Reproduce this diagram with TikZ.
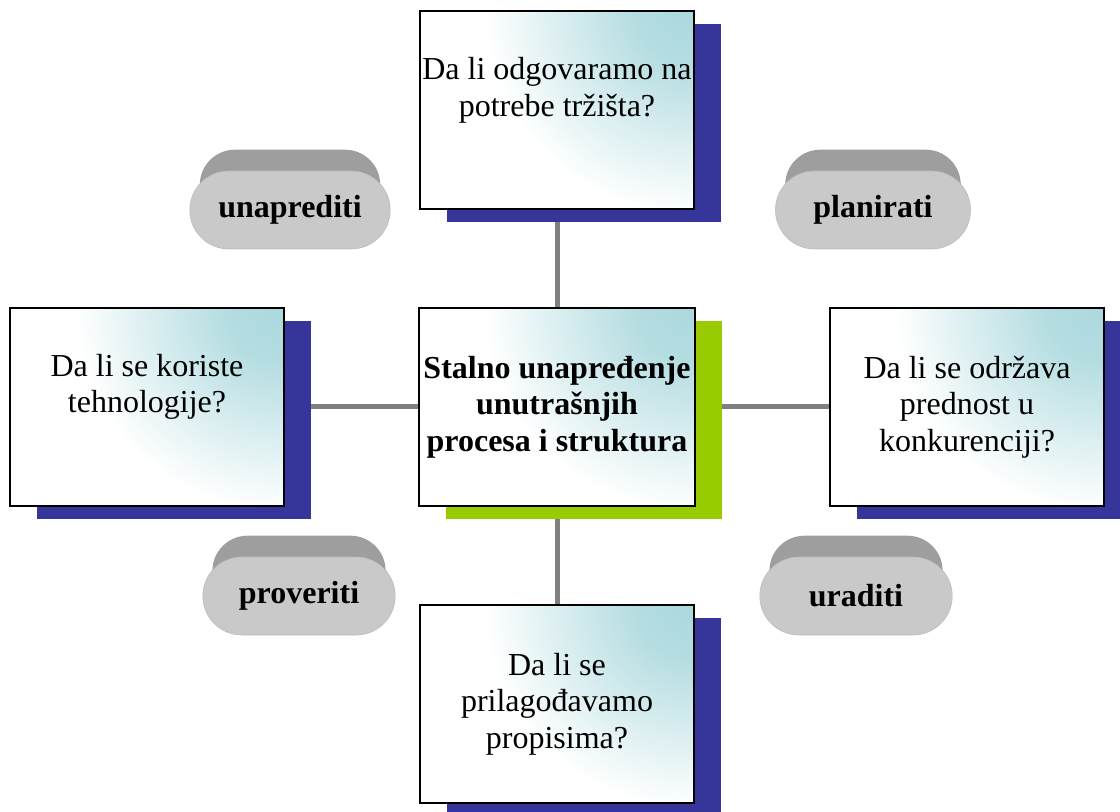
\documentclass[tikz,border=0pt]{standalone}
\usepackage{fontspec}
\setmainfont{Liberation Serif}
\usetikzlibrary{shapes.misc, shadows, backgrounds}

\definecolor{boxteal}{RGB}{172,217,222}
\definecolor{navyshade}{RGB}{54,53,153}
\definecolor{limeshade}{RGB}{153,204,0}
\pgfdeclareradialshading{cornerglow}{\pgfpointorigin}{color(0bp)=(boxteal); color(5bp)=(boxteal!90!white);
  color(19bp)=(white); color(50bp)=(white)}

\begin{document}
\begin{tikzpicture}[
  x=0.75pt, y=-0.75pt,
  font=\fontsize{24}{27.5}\selectfont,
  qbox/.style={rectangle, draw=black, line width=1.1pt, align=center, fill=white,
               minimum width=205.5pt, minimum height=148.5pt,
               path picture={\shade[shading=cornerglow]
                 (path picture bounding box.north east) circle (200pt);},
               general shadow={fill=#1, shadow xshift=20.25pt, shadow yshift=-9.75pt}},
  qtext/.style={align=center},
  pill/.style={rounded rectangle, fill=black!21, draw=black!27, thin,
               minimum width=#1, minimum height=58.5pt, font=\fontsize{24}{27.5}\selectfont\bfseries,
               general shadow={shadow scale=0.9, shadow yshift=21pt, fill=black!38}},
  link/.style={draw=black!50, line width=3.75pt},
]
\useasboundingbox (0,0) rectangle (1120,812);

% ---- boxes ----
\node[qbox=limeshade, font=\fontsize{24}{27.5}\selectfont\bfseries] (hub) at (557,407)
  {Stalno unapređenje\\unutrašnjih\\procesa i struktura};
\node[qbox=navyshade] (qtop) at (557,110) {};
\node[qtext] (ttop) at ([yshift=15pt]qtop.center) {Da li odgovaramo na\\potrebe tržišta?};
\node[qbox=navyshade] (qleft) at (147,407) {};
\node[qtext] (tleft) at ([yshift=15pt]qleft.center) {Da li se koriste\\tehnologije?};
\node[qbox=navyshade] (qright) at (967,407) {Da li se održava\\prednost u\\konkurenciji?};
\node[qbox=navyshade] (qbottom) at (557,704) {Da li se\\prilagođavamo\\propisima?};

% ---- cycle pills ----
\node[pill=157pt] (pimprove) at (290,210) {unaprediti};
\node[pill=153pt] (pplan) at (873,210) {planirati};
\node[pill=151pt] (pcheck) at (299,596) {proveriti};
\node[pill=151pt] (pdo) at (856,596) {uraditi};

% ---- connectors ----
\begin{scope}[on background layer]
  \draw[link] (hub) -- (qtop);
  \draw[link] (hub) -- (qbottom);
  \draw[link] (hub) -- (qleft);
  \draw[link] (hub) -- (qright);
\end{scope}

\end{tikzpicture}
\end{document}
